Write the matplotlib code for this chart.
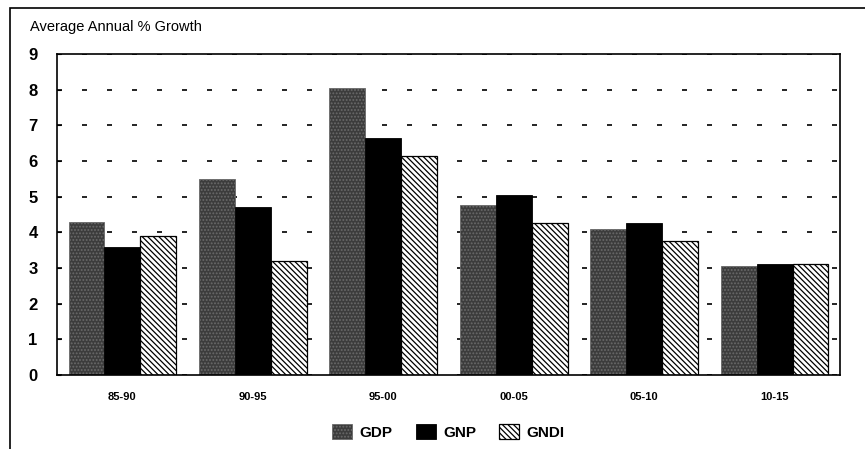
import matplotlib.pyplot as plt
from matplotlib.patches import Rectangle
import numpy as np

periods = ['85-90', '90-95', '95-00', '00-05', '05-10', '10-15']
gdp = [4.3, 5.5, 8.05, 4.75, 4.1, 3.05]
gnp = [3.6, 4.7, 6.65, 5.05, 4.25, 3.12]
gndi = [3.9, 3.2, 6.15, 4.27, 3.75, 3.12]

plt.rcParams['font.family'] = ['Liberation Sans', 'DejaVu Sans']
plt.rcParams['hatch.linewidth'] = 0.9

fig = plt.figure(figsize=(8.65, 4.49), dpi=100)
ax = fig.add_axes([0.066, 0.165, 0.905, 0.715])

# outer frame of the figure
fig.patches.append(Rectangle((0.012, -0.05), 1.2, 1.032, transform=fig.transFigure,
                             fill=False, edgecolor='black', linewidth=1.2))

x = np.arange(len(periods))
w = 0.275

ax.bar(x - w, gdp, w, color='#3c3c3c', edgecolor='#6a6a6a', hatch='.....',
       linewidth=0.6, label='GDP')
ax.bar(x, gnp, w, color='black', edgecolor='black', linewidth=0.6, label='GNP')
ax.bar(x + w, gndi, w, color='white', edgecolor='black', hatch='\\\\\\\\\\\\',
       linewidth=0.9, label='GNDI')

ax.set_ylim(0, 9)
ax.set_xlim(-0.5, len(periods) - 0.5)
ax.set_yticks(range(0, 10))
ax.set_xticks(x)
ax.set_xticklabels(periods, fontsize=8, fontweight='bold')
for t in ax.get_yticklabels():
    t.set_fontsize(12)
    t.set_fontweight('bold')
ax.tick_params(axis='y', direction='in', length=3, pad=14)
ax.tick_params(axis='x', length=0, pad=12)

ax.yaxis.grid(True, linestyle=(0, (3, 12)), color='black', linewidth=1.2)
ax.set_axisbelow(True)
for s in ax.spines.values():
    s.set_linewidth(1.2)

fig.text(0.035, 0.93, 'Average Annual % Growth', fontsize=10.5)

ax.legend(loc='center', bbox_to_anchor=(0.5, -0.178), ncol=3, frameon=False,
          prop={'weight': 'bold', 'size': 11}, handlelength=1.3, handleheight=1.1,
          columnspacing=1.5, handletextpad=0.5)

plt.savefig('out.png', dpi=100)
